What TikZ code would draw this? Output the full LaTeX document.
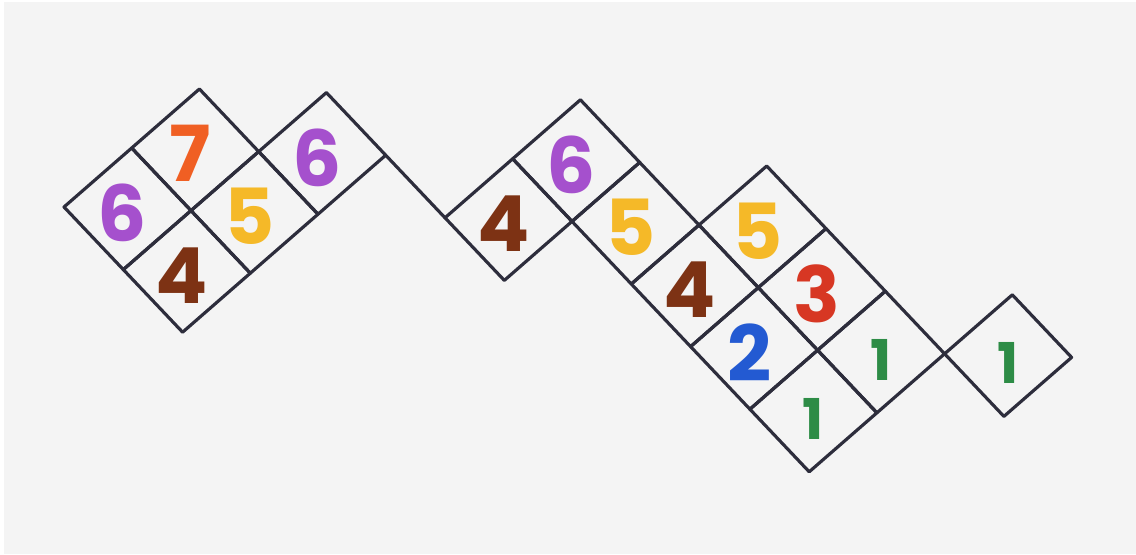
\documentclass[tikz,border=0pt]{standalone}
\usepackage{fontspec}
\newfontfamily\digitfont{Poppins}

\definecolor{paper}{RGB}{244,244,244}
\definecolor{ink}{RGB}{45,45,60}
\definecolor{numpurple}{RGB}{165,80,205}
\definecolor{numorange}{RGB}{240,95,35}
\definecolor{numyellow}{RGB}{245,185,40}
\definecolor{numbrown}{RGB}{125,50,20}
\definecolor{numred}{RGB}{215,55,35}
\definecolor{numblue}{RGB}{35,90,210}
\definecolor{numgreen}{RGB}{45,140,70}

\tikzset{
  cell line/.style={ink, line width=1.8pt, line cap=round, line join=round},
  digit/.style={font=\digitfont\bfseries\fontsize{44}{44}\selectfont, inner sep=0pt, xshift=-0.1cm, yshift=-0.08cm},
  small digit/.style={font=\digitfont\bfseries\fontsize{32}{32}\selectfont, inner sep=0pt, yshift=-0.15cm}
}

\begin{document}
\begin{tikzpicture}
  % Paper, with the white scan edge on the left and top
  \fill[white] (0,0) rectangle (22.72,11.08);
  \fill[paper] (0.08,0) rectangle (22.72,11.03);
  \useasboundingbox (0,0) rectangle (22.72,11.08);

  % Tilted grid: x runs down-right, y runs up-right
  \begin{scope}[shift={(1.28,6.94)}, x={(1.186cm,-1.252cm)}, y={(1.354cm,1.18cm)}]
    % Cells with their numbers
    \foreach \ca/\cb/\num/\col/\sty in {
        0/0/6/numpurple/digit, 0/1/7/numorange/digit,
        1/0/4/numbrown/digit, 1/1/5/numyellow/digit, 1/2/6/numpurple/digit,
        3/3/4/numbrown/digit, 3/4/6/numpurple/digit, 4/4/5/numyellow/digit,
        5/4/4/numbrown/digit, 5/5/5/numyellow/digit,
        6/4/2/numblue/digit, 6/5/3/numred/digit,
        7/4/1/numgreen/small digit, 7/5/1/numgreen/small digit,
        8/6/1/numgreen/small digit} {
      \draw[cell line] (\ca,\cb) -- ++(1,0) -- ++(0,1) -- ++(-1,0) -- cycle;
      \node[\sty, text=\col] (n-\ca-\cb) at (\ca+0.5,\cb+0.5) {\num};
    }

    % Link between the two blocks
    \draw[cell line] (2,3) -- (3,3);
  \end{scope}
\end{tikzpicture}
\end{document}
